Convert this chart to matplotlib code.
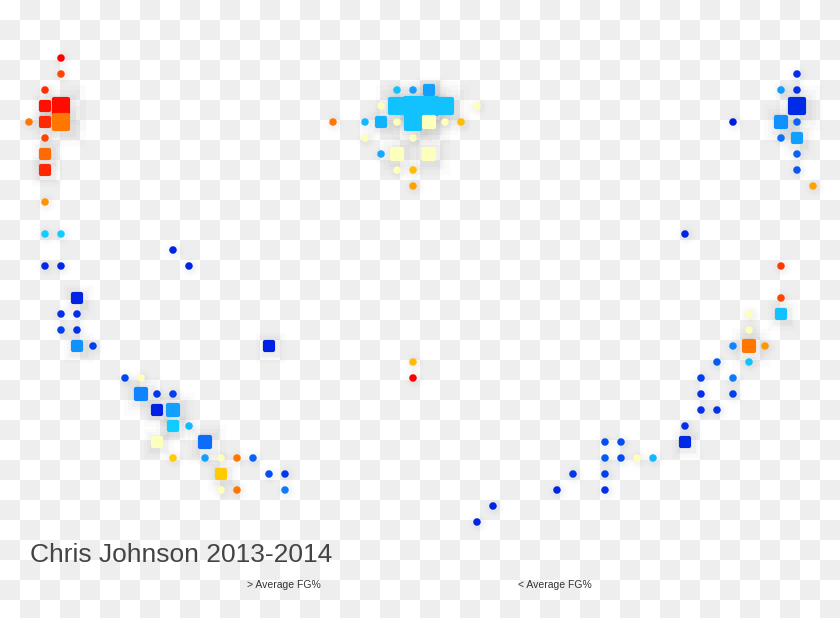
import numpy as np
import matplotlib
matplotlib.use("Agg")
import matplotlib.pyplot as plt
from matplotlib.colors import LinearSegmentedColormap, ListedColormap

plt.rcParams["font.family"] = ["Liberation Sans", "DejaVu Sans"]

# shot grid: column / row of each cell, marker size class
# (0 = dot, 1..4 = square small..xl), heat = relative FG% (0 cold .. 1 hot)
col = [2, 2, 1, 1, 2, 0, 1, 2, 1, 1, 1, 1, 1, 2, 1, 2, 3, 2, 3, 2, 3, 3, 4,
       23, 24, 25, 22, 23, 24, 25, 26, 28, 19, 21, 22, 23, 24, 25, 26, 27,
       21, 24, 22, 23, 25, 23, 24, 24,
       48, 47, 48, 48, 44, 47, 48, 47, 48, 48, 48, 49,
       9, 10, 15, 24, 24,
       6, 7, 7, 8, 9, 8, 9, 9, 10, 8, 11, 9, 11, 12, 13, 14, 12, 15, 16,
       12, 13, 16,
       41, 47, 47, 45, 47, 45, 44, 45, 46, 43, 45, 42, 44, 42, 44, 42, 43,
       41, 41, 36, 37, 36, 37, 38, 39, 34, 36, 33, 36, 29, 28]
row = [0, 1, 2, 3, 3, 4, 4, 4, 5, 6, 7, 9, 11, 11, 13, 13, 15, 16, 16, 17,
       17, 18, 18,
       2, 2, 2, 3, 3, 3, 3, 3, 3, 4, 4, 4, 4, 4, 4, 4, 4,
       5, 5, 6, 6, 6, 7, 7, 8,
       1, 2, 2, 3, 4, 4, 4, 5, 5, 6, 7, 8,
       12, 13, 18, 19, 20,
       20, 20, 21, 21, 21, 22, 22, 23, 23, 24, 24, 25, 25, 25, 25, 25, 26,
       26, 26, 27, 27, 27,
       11, 13, 15, 16, 16, 17, 18, 18, 18, 19, 19, 20, 20, 21, 21, 22, 22,
       23, 24, 24, 24, 25, 25, 25, 25, 26, 26, 27, 27, 28, 29]
size = [0, 0, 0, 1, 3, 0, 1, 3, 0, 1, 1, 0, 0, 0, 0, 0, 1, 0, 0, 0, 0, 1, 0,
        0, 0, 1, 0, 3, 4, 4, 3, 0, 0, 0, 1, 0, 3, 2, 0, 0,
        0, 0, 0, 2, 2, 0, 0, 0,
        0, 0, 0, 3, 0, 2, 0, 0, 1, 0, 0, 0,
        0, 0, 1, 0, 0,
        0, 0, 2, 0, 0, 1, 2, 1, 0, 1, 2, 0, 0, 0, 0, 0, 1, 0, 0,
        0, 0, 0,
        0, 0, 0, 0, 1, 0, 0, 2, 0, 0, 0, 0, 0, 0, 0, 0, 0,
        0, 1, 0, 0, 0, 0, 0, 0, 0, 0, 0, 0, 0, 0]
heat = [1.0, 0.88, 0.92, 0.97, 0.98, 0.8, 0.93, 0.8, 0.88, 0.82, 0.93, 0.76,
        0.42, 0.42, 0.06, 0.06, 0.05, 0.08, 0.08, 0.12, 0.08, 0.3, 0.12,
        0.4, 0.33, 0.33, 0.55, 0.4, 0.4, 0.4, 0.4, 0.55, 0.8, 0.38, 0.37,
        0.55, 0.4, 0.55, 0.55, 0.7,
        0.55, 0.55, 0.35, 0.55, 0.55, 0.55, 0.7, 0.74,
        0.08, 0.32, 0.08, 0.07, 0.03, 0.3, 0.2, 0.22, 0.33, 0.2, 0.17, 0.74,
        0.05, 0.05, 0.04, 0.7, 1.0,
        0.14, 0.55, 0.27, 0.1, 0.12, 0.04, 0.33, 0.42, 0.38, 0.55, 0.22,
        0.68, 0.33, 0.55, 0.8, 0.2, 0.68, 0.15, 0.1,
        0.55, 0.8, 0.25,
        0.05, 0.9, 0.88, 0.55, 0.4, 0.55, 0.27, 0.8, 0.75, 0.18, 0.4, 0.12,
        0.25, 0.08, 0.12, 0.08, 0.08,
        0.08, 0.07, 0.15, 0.15, 0.18, 0.15, 0.55, 0.38, 0.1, 0.12, 0.05,
        0.08, 0.05, 0.05]

title = "Chris Johnson 2013-2014"
legend_labels = ["> Average FG%", "< Average FG%"]

W, H = 840, 618
CELL, X0, Y0 = 16, 29, 58  # grid pitch and first cell centre, pixels

cmap = LinearSegmentedColormap.from_list("fg", [
    (0.0, "#0011dd"), (0.12, "#0040ee"), (0.28, "#1188ff"), (0.42, "#11ccff"),
    (0.55, "#ffffbb"), (0.68, "#ffcc00"), (0.8, "#ff7700"), (1.0, "#ff0000")])

fig = plt.figure(figsize=(W / 100, H / 100), dpi=100)

# transparent-png checkerboard behind everything
bg = fig.add_axes([0, 0, 1, 1])
checker = np.add.outer(np.arange(32), np.arange(42)) % 2
bg.imshow(checker, cmap=ListedColormap(["white", "#eeeeee"]),
          extent=(0, 840, 640, 0), interpolation="nearest")
bg.set_xlim(0, W); bg.set_ylim(H, 0); bg.axis("off")

ax = fig.add_axes([0, 0, 1, 1])
ax.set_facecolor("none")
ax.set_xlim(-X0 / CELL, (W - X0) / CELL)
ax.set_ylim((H - Y0) / CELL, -Y0 / CELL)
ax.axis("off")

col = np.array(col); row = np.array(row)
size = np.array(size); heat = np.array(heat)
sq = size > 0
side_px = np.array([7.5, 11.5, 14.5, 17.5, 20.5])[size]

# soft grey shadows
for f, a in [(2.6, 0.025), (2.0, 0.035), (1.5, 0.05)]:
    ax.scatter(col[sq] + 0.12, row[sq] + 0.12, s=(side_px[sq] * 0.72 * f) ** 2,
               marker="s", color="#777777", alpha=a, linewidths=0, zorder=1)
    ax.scatter(col[~sq] + 0.08, row[~sq] + 0.08,
               s=(side_px[~sq] * 0.72 * f) ** 2, marker="o", color="#777777",
               alpha=a * 0.6, linewidths=0, zorder=1)

colors = cmap(heat)
ax.scatter(col[~sq], row[~sq], s=(side_px[~sq] * 0.72) ** 2, marker="o",
           c=colors[~sq], linewidths=0, zorder=3)
order = np.argsort(row[sq], kind="stable")
lw = 3.0
ax.scatter(col[sq][order], row[sq][order],
           s=(side_px[sq][order] * 0.72 - lw) ** 2, marker="s",
           c=colors[sq][order], edgecolors=colors[sq][order], linewidths=lw,
           joinstyle="round", zorder=4)

fig.text(30 / W, 1 - 562 / H, title, fontsize=19, color="#444444",
         va="baseline", ha="left")
fig.text(247 / W, 1 - 588 / H, legend_labels[0], fontsize=7.5, color="#333333",
         va="baseline", ha="left")
fig.text(518 / W, 1 - 588 / H, legend_labels[1], fontsize=7.5, color="#333333",
         va="baseline", ha="left")

fig.savefig("out.png", dpi=100)
